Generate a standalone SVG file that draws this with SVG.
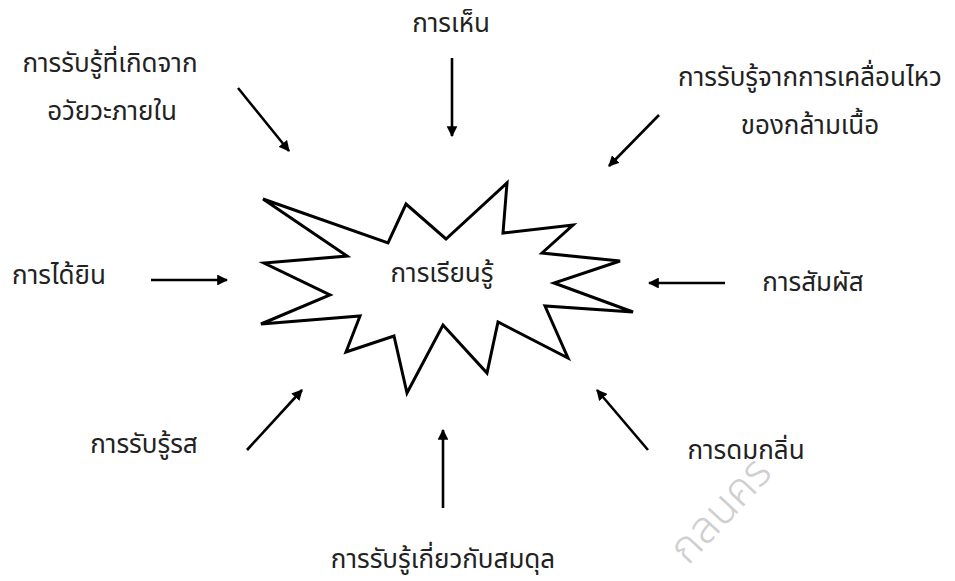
<svg xmlns="http://www.w3.org/2000/svg" width="955" height="581" viewBox="0 0 955 581">
<style>
.t{font-family:"Noto Sans Thai","Tahoma","DejaVu Sans","Noto Sans",sans-serif;font-size:26px;fill:#222;text-anchor:middle}
.c{stroke:#000;stroke-width:2.6;fill:none;marker-end:url(#ah)}
.wm{font-family:"Noto Sans Thai","DejaVu Sans",sans-serif;font-size:44px;font-weight:300;fill:#cfcfcf}
</style>
<defs>
<marker id="ah" viewBox="0 0 10 10" refX="9" refY="5" markerWidth="4.2" markerHeight="4.2" orient="auto" markerUnits="strokeWidth">
<path d="M0,0 L10,5 L0,10 z" fill="#000"/>
</marker>
</defs>
<rect width="955" height="581" fill="#fff"/>
<g id="watermark">
<text class="wm" x="0" y="0" transform="translate(688,566) rotate(-47)">กลนคร</text>
</g>
<g id="center">
<polygon points="263,199 388,243 406,204 446,239 507,183 503,233 573,225 542,253 620,261 554,283 633,312 545,306 568,358 498,322 487,373 443,325 407,393 394,336 346,352 360,316 261,324 330,295 264,263 347,256" fill="#fff" stroke="#000" stroke-width="3" stroke-linejoin="miter"/>
<text class="t" x="442" y="282">การเรียนรู้</text>
</g>
<g id="n-see"><text class="t" x="451" y="32">การเห็น</text></g>
<g id="n-internal"><text class="t" x="110" y="72">การรับรู้ที่เกิดจาก</text><text class="t" x="112" y="120">อวัยวะภายใน</text></g>
<g id="n-muscle"><text class="t" x="810" y="86">การรับรู้จากการเคลื่อนไหว</text><text class="t" x="810" y="134">ของกล้ามเนื้อ</text></g>
<g id="n-hear"><text class="t" x="59" y="284">การได้ยิน</text></g>
<g id="n-touch"><text class="t" x="813" y="291">การสัมผัส</text></g>
<g id="n-taste"><text class="t" x="144" y="453">การรับรู้รส</text></g>
<g id="n-smell"><text class="t" x="746" y="459">การดมกลิ่น</text></g>
<g id="n-balance"><text class="t" x="443" y="568">การรับรู้เกี่ยวกับสมดุล</text></g>
<g id="connectors">
<line class="c" x1="452" y1="58" x2="452" y2="136"/>
<line class="c" x1="238" y1="88" x2="289" y2="151"/>
<line class="c" x1="659" y1="115" x2="609" y2="166"/>
<line class="c" x1="151" y1="280" x2="227" y2="280"/>
<line class="c" x1="725" y1="283" x2="649" y2="283"/>
<line class="c" x1="247" y1="450" x2="302" y2="390"/>
<line class="c" x1="648" y1="450" x2="597" y2="390"/>
<line class="c" x1="443" y1="508" x2="443" y2="430"/>
</g>
</svg>
